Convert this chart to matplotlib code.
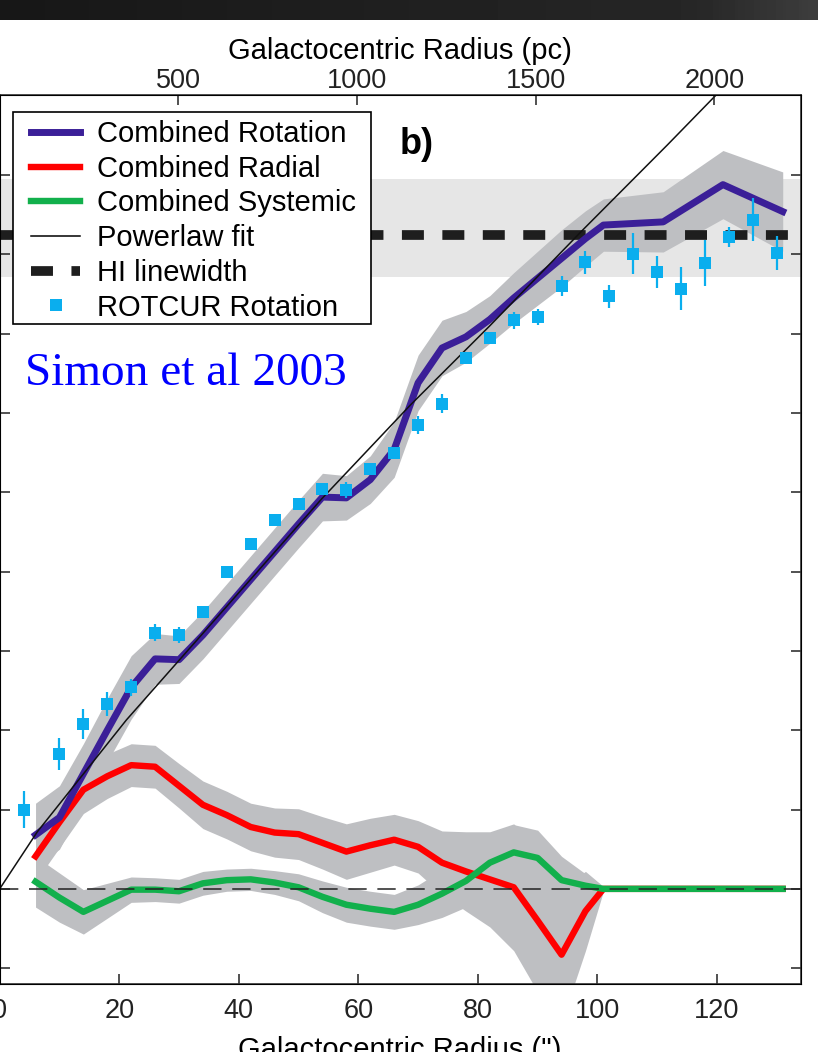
import numpy as np
import matplotlib
matplotlib.use("Agg")
import matplotlib.pyplot as plt
from matplotlib.lines import Line2D
from matplotlib.patches import Rectangle

plt.rcParams['font.family'] = ['Liberation Sans', 'DejaVu Sans']

# ---- combined harmonic fit (arcsec, km/s) ----
r_comb = [6, 10, 14, 18, 22, 26, 30, 34, 38, 42, 46, 50, 54, 58, 62, 66, 70,
          74, 78, 82, 86, 90, 94, 98, 101, 111, 121, 131]
rot_v = [6.8, 9.0, 14.5, 20.0, 25.4, 29.0, 28.9, 32.0, 35.5, 39.0, 42.5, 46.0,
         49.4, 49.3, 51.6, 55.4, 63.8, 68.2, 69.6, 71.8, 74.5, 77.0, 79.5,
         82.0, 83.7, 84.1, 88.8, 85.4]
rot_e = [4.0, 4.0, 3.8, 4.0, 4.0, 3.2, 3.0, 3.0, 3.0, 3.0, 3.0, 3.0, 3.0, 2.8,
         3.0, 3.5, 3.5, 3.5, 3.2, 3.0, 3.2, 3.4, 3.6, 3.5, 3.3, 3.8, 4.3, 5.0]
rad_v = [4.1, 8.4, 12.5, 14.2, 15.6, 15.4, 13.0, 10.6, 9.3, 7.8, 7.1, 6.9, 5.8,
         4.7, 5.5, 6.2, 5.3, 3.3, 2.2, 1.2, 0.2, -4.0, -8.3, -2.8, 0.0, 0.0,
         0.0, 0.0]
rad_e = [3.2, 3.2, 3.0, 2.8, 2.7, 2.7, 2.8, 3.0, 3.0, 3.0, 3.1, 3.2, 3.3, 3.5,
         3.4, 3.2, 3.3, 4.0, 5.0, 6.0, 8.0, 9.0, 8.5, 5.0, 0.3, 0.3, 0.3, 0.3]
sys_v = [0.9, -1.1, -2.9, -1.5, -0.1, -0.1, -0.3, 0.7, 1.1, 1.2, 0.8, 0.2,
         -1.0, -2.0, -2.5, -2.9, -2.0, -0.6, 1.0, 3.3, 4.6, 3.9, 1.1, 0.4, 0.0,
         0.0, 0.0, 0.0]
sys_e = [3.2, 3.1, 2.8, 2.2, 1.6, 1.5, 1.5, 1.5, 1.4, 1.4, 1.5, 1.7, 2.0, 2.2,
         2.2, 2.2, 2.5, 3.0, 3.3, 3.5, 3.5, 3.5, 3.0, 1.5, 0.3, 0.3, 0.3, 0.3]

# ---- ROTCUR tilted-ring rotation ----
rc_r = [4, 10, 14, 18, 22, 26, 30, 34, 38, 42, 46, 50, 54, 58, 62, 66, 70, 74,
        78, 82, 86, 90, 94, 98, 102, 106, 110, 114, 118, 122, 126, 130]
rc_v = [10.0, 17.0, 20.8, 23.3, 25.4, 32.3, 32.0, 34.9, 40.0, 43.5, 46.5, 48.5,
        50.4, 50.3, 52.9, 55.0, 58.5, 61.2, 67.0, 69.4, 71.7, 72.1, 76.0, 79.0,
        74.7, 80.1, 77.8, 75.7, 78.9, 82.2, 84.4, 80.2]
rc_e = [2.3, 2.0, 1.85, 1.5, 1.05, 1.05, 1.05, 0.6, 0.5, 0.5, 0.5, 0.5, 0.5,
        1.05, 0.6, 0.6, 1.1, 1.2, 0.6, 0.6, 1.1, 1.05, 1.3, 1.45, 1.5, 2.55,
        2.05, 2.7, 2.9, 1.3, 2.65, 2.15]

# ---- power-law fit, sampled ----
pl_r = [0, 6.3, 21.2, 53.9, 68.7, 82.0, 97.7, 111.7, 120.5]
pl_v = [0, 7.2, 21.3, 49.2, 61.0, 71.0, 83.2, 93.8, 100.6]

# ---- HI linewidth ----
hi_v = 82.5
hi_lo, hi_hi = 77.1, 89.5
hi_r = [0, 132]

pc_ticks = [500, 1000, 1500, 2000]
PC_PER_ARCSEC = 16.73   # D = 3.45 Mpc

PURPLE = '#3b1f98'
RED = '#ff0000'
GREEN = '#12b04c'
CYAN = '#0aaeee'
BAND = '#bebfc2'
HI_DASH = (0.26, (2.26, 1.9))
W, H = 818, 1052

fig = plt.figure(figsize=(W / 100, H / 100), dpi=100)
ax = fig.add_axes([-0.0004, 0.0646, 0.9792, 0.8451])

ax.axhspan(hi_lo, hi_hi, color='#e6e6e6', lw=0, zorder=0)

def band(v, e):
    return [a - b for a, b in zip(v, e)], [a + b for a, b in zip(v, e)]

for v, e in [(rot_v, rot_e), (rad_v, rad_e), (sys_v, sys_e)]:
    lo, hi = band(v, e)
    ax.fill_between(r_comb, lo, hi, color=BAND, lw=0, zorder=1)

ax.plot(hi_r, [hi_v, hi_v], color='#1e1e1e', lw=7, ls=HI_DASH, zorder=2)
ax.plot(r_comb, rad_v, color=RED, lw=4.6, zorder=3)
ax.plot(r_comb, sys_v, color=GREEN, lw=4.6, zorder=3)
ax.plot(r_comb, rot_v, color=PURPLE, lw=5, zorder=3)
ax.axhline(0, color='#222222', lw=1.1, ls=(0, (12, 7)), zorder=4)
ax.plot(pl_r, pl_v, color='#111111', lw=1.1, zorder=4)
ax.errorbar(rc_r, rc_v, yerr=rc_e, fmt='s', color=CYAN, ms=8.3, mew=0,
            elinewidth=1.6, capsize=3.2, capthick=1.6, zorder=5)

ax.set_xlim(0, 134.0)
ax.set_ylim(-12.0, 100.1)
ax.set_xticks(range(0, 121, 20))
ax.set_yticks(range(-10, 91, 10))
ax.tick_params(direction='in', length=7, width=1.1, right=True,
               labelleft=False, labelsize=19.5, pad=10, colors='#222222')
ax.set_xlabel('Galactocentric Radius (")', fontsize=21, labelpad=9)
for s in ax.spines.values():
    s.set_linewidth(1.2)
    s.set_color('#333333')

ax2 = ax.twiny()
ax2.set_xlim(ax.get_xlim())
ax2.set_xticks([p / PC_PER_ARCSEC for p in pc_ticks])
ax2.set_xticklabels([str(p) for p in pc_ticks])
ax2.tick_params(direction='in', length=7, width=1.1, labelsize=19.5, pad=1,
                colors='#222222')
ax2.set_xlabel('Galactocentric Radius (pc)', fontsize=21, labelpad=6)

# legend box drawn by hand so the inner padding can differ per side
ax.add_patch(Rectangle((13 / W, 1 - 324 / H), 357.7 / W, 212.3 / H,
                       transform=fig.transFigure, facecolor='white',
                       edgecolor='black', lw=1.2, clip_on=False, zorder=5.5))
handles = [
    Line2D([], [], color=PURPLE, lw=5),
    Line2D([], [], color=RED, lw=4.6),
    Line2D([], [], color=GREEN, lw=4.6),
    Line2D([], [], color='black', lw=1.1),
    Line2D([], [], color='#1e1e1e', lw=7, ls=(0, (2.26, 1.9))),
    Line2D([], [], color=CYAN, marker='s', ms=8.3, mew=0, ls='none'),
]
labels = ['Combined Rotation', 'Combined Radial', 'Combined Systemic',
          'Powerlaw fit', 'HI linewidth', 'ROTCUR Rotation']
leg = ax.legend(handles, labels, loc='upper left',
                bbox_to_anchor=(31 / W, 1 - 120 / H),
                bbox_transform=fig.transFigure, fontsize=21, frameon=False,
                handlelength=1.68, handletextpad=0.58, labelspacing=0.23,
                borderpad=0, borderaxespad=0, numpoints=1)
leg.set_zorder(6)

fig.text(25 / W, 1 - 385 / H, 'Simon et al 2003', color='#0000ff',
         fontsize=34, family='Liberation Serif', va='baseline')
fig.text(417 / W, 1 - 144 / H, 'b)', fontsize=26, fontweight='bold',
         ha='center', va='center')

# dark strip along the top edge
strip = fig.add_axes([0, 1 - 20 / H, 1, 20 / H])
grad = np.linspace(0.09, 0.16, 256)
grad[-40:] += np.linspace(0, 0.08, 40)
strip.imshow(np.tile(grad, (2, 1)), cmap='gray', vmin=0, vmax=1,
             aspect='auto', extent=(0, 1, 0, 1))
strip.set_axis_off()

fig.savefig('out.png', dpi=100)
